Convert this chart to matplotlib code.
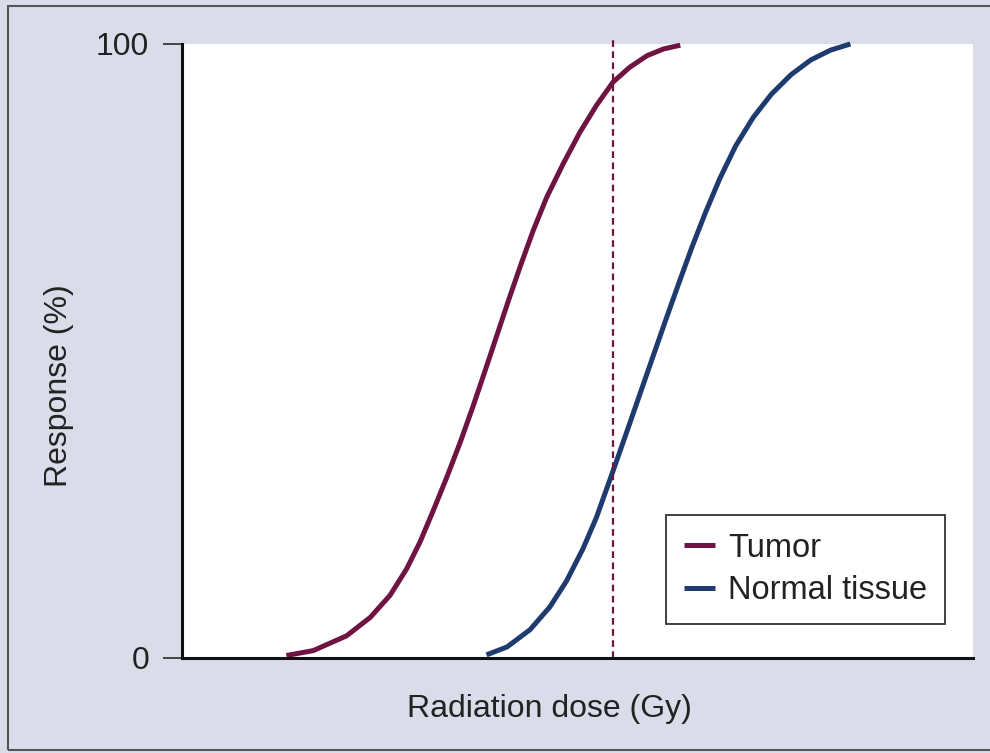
import matplotlib.pyplot as plt
from matplotlib.patches import Rectangle

plt.rcParams['font.family'] = ['Liberation Sans', 'DejaVu Sans']

# dose-response curves (dose in arbitrary units 0-100)
tumor_dose = [13.2, 16.6, 20.8, 23.8, 26.3, 28.4, 30.1, 31.8, 33.5, 35.2, 36.8,
              38.3, 39.8, 41.3, 42.8, 44.4, 46.1, 48.2, 50.3, 52.4, 54.5,
              56.6, 58.8, 60.9, 63.0]
tumor_resp = [0.4, 1.2, 3.6, 6.6, 10.2, 14.5, 18.9, 24.1, 29.5, 35.2, 41.0,
              46.7, 52.5, 58.3, 63.9, 69.6, 75.0, 80.5, 85.6, 90.0, 93.8,
              96.2, 98.1, 99.2, 99.8]

normal_dose = [38.5, 41.1, 44.0, 46.5, 48.6, 50.7, 52.4, 54.7, 56.2, 57.9,
               59.6, 61.2, 62.8, 64.5, 66.2, 68.0, 70.0, 72.2, 74.5, 77.0,
               79.5, 82.0, 84.5]
normal_resp = [0.5, 1.8, 4.6, 8.3, 12.5, 17.8, 22.9, 31.2, 36.7, 43.0,
               49.3, 55.2, 61.0, 67.0, 72.6, 78.1, 83.4, 88.0, 91.8, 95.0,
               97.4, 99.0, 100.0]

prescribed_dose = 54.5
y_ticks = [0, 100]
y_tick_labels = ['0', '100']

tumor_color = '#6f1442'
normal_color = '#1f3a6e'
text_color = '#222222'

fig = plt.figure(figsize=(9.9, 7.53), dpi=100, facecolor='#dadcea')
ax = fig.add_axes([0.1838, 0.1262, 0.7990, 0.8154])
ax.set_facecolor('white')

ax.plot(tumor_dose, tumor_resp, color=tumor_color, lw=3.6, solid_capstyle='butt',
        solid_joinstyle='round', label='Tumor', clip_on=False)
ax.plot(normal_dose, normal_resp, color=normal_color, lw=3.6, solid_capstyle='butt',
        solid_joinstyle='round', label='Normal tissue', clip_on=False)
ax.axvline(prescribed_dose, ymin=0, ymax=1.007, color=tumor_color, lw=1.6,
           linestyle=(0, (3, 2)), clip_on=False)

ax.set_xlim(0, 100)
ax.set_ylim(0, 100)

for side in ['top', 'right']:
    ax.spines[side].set_visible(False)
for side in ['left', 'bottom']:
    ax.spines[side].set_linewidth(2.2)
    ax.spines[side].set_color('#111111')

ax.set_xticks([])
ax.set_yticks(y_ticks)
ax.set_yticklabels(y_tick_labels)
ax.tick_params(axis='y', length=13.5, width=1.4, color='#444444', pad=10,
               labelsize=23, labelcolor=text_color)

ax.set_xlabel('Radiation dose (Gy)', fontsize=23, color=text_color, labelpad=26, x=0.465)
ax.set_ylabel('Response (%)', fontsize=23, color=text_color, labelpad=16, y=0.444)

leg = ax.legend(loc='lower right', bbox_to_anchor=(0.9646, 0.0555), borderaxespad=0,
                fontsize=23.5, fancybox=False, framealpha=1, edgecolor='#333333',
                handlelength=0.95, handletextpad=0.4, labelspacing=0.35,
                borderpad=0.55)
leg.get_frame().set_linewidth(1.3)
for t in leg.get_texts():
    t.set_color(text_color)

# thin dark frame around the figure (top, left, bottom)
fig.add_artist(Rectangle((0.008, 0.004), 1.0, 0.988, transform=fig.transFigure,
                         fill=False, edgecolor='#555555', lw=1.5))

fig.savefig('out.png', dpi=100, facecolor=fig.get_facecolor())
